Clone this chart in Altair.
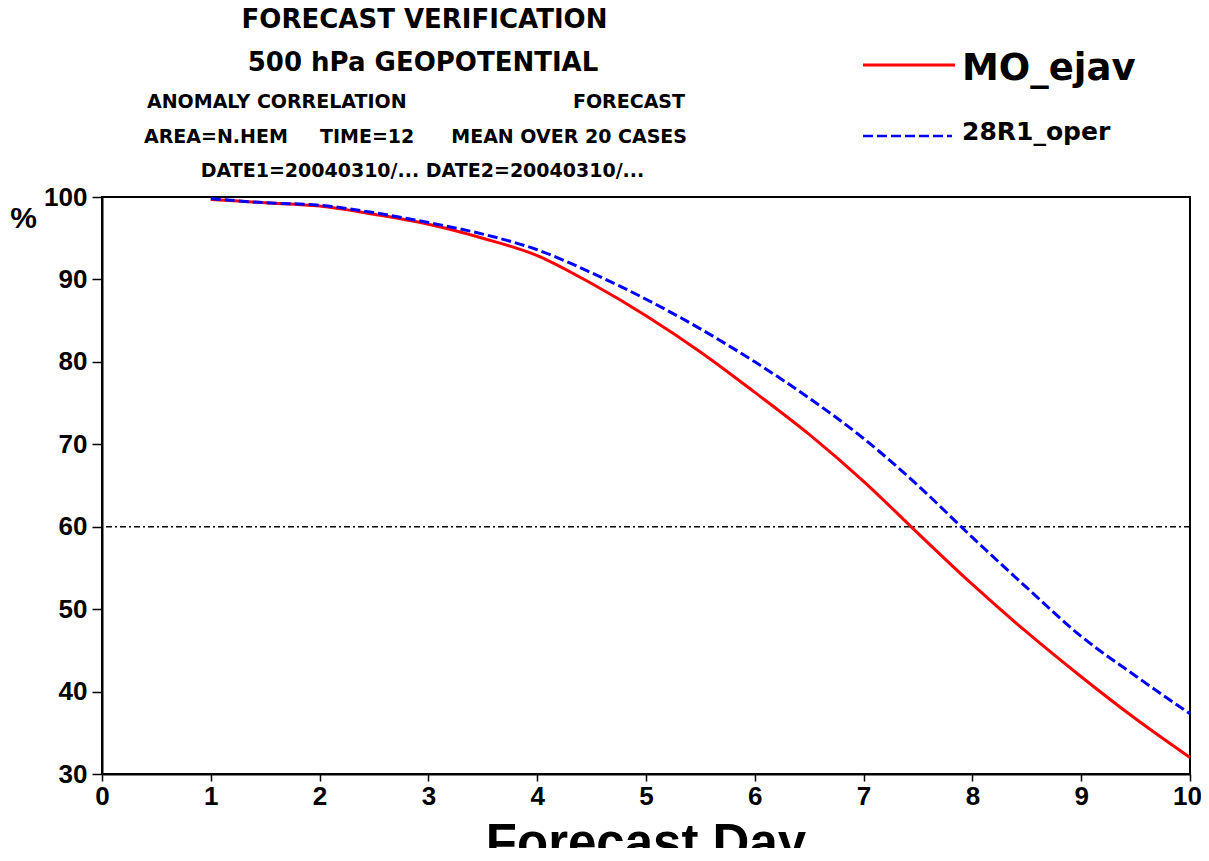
import altair as alt
import pandas as pd

# ---- data ----
days = [1, 1.5, 2, 2.5, 3, 3.5, 4, 4.5, 5, 5.5, 6, 6.5, 7, 7.5, 8, 8.5, 9, 9.5, 10]
mo_ejav = [99.7, 99.3, 98.9, 97.9, 96.7, 95.0, 92.9, 89.5, 85.6, 81.2, 76.3,
           71.2, 65.5, 59.2, 53.0, 47.2, 41.8, 36.7, 32.0]
r28_oper = [99.8, 99.3, 99.0, 98.1, 96.9, 95.5, 93.6, 90.8, 87.6, 84.0, 80.0,
            75.6, 70.7, 65.0, 58.7, 52.6, 46.7, 41.9, 37.3]
series_names = ["MO_ejav", "28R1_oper"]
series_colors = ["#ff0000", "#0000ff"]
x_ticks = list(range(0, 11))
y_ticks = list(range(30, 101, 10))
ref_value = [60]

title_lines = ["FORECAST VERIFICATION", "500 hPa GEOPOTENTIAL"]
info_left = "ANOMALY CORRELATION"
info_right = "FORECAST"
area_txt = "AREA=N.HEM"
time_txt = "TIME=12"
mean_txt = "MEAN OVER  20 CASES"
date_txt = "DATE1=20040310/... DATE2=20040310/..."
x_title = "Forecast Day"

rows = []
for d, a, b in zip(days, mo_ejav, r28_oper):
    rows.append({"day": d, "acc": a, "exp": series_names[0]})
    rows.append({"day": d, "acc": b, "exp": series_names[1]})
df = pd.DataFrame(rows)

W, H = 1088, 577
AX_FONT = "Liberation Sans"
TT_FONT = "DejaVu Sans"

xscale = alt.Scale(domain=[0, 10], nice=False, zero=False)
yscale = alt.Scale(domain=[30, 100], nice=False, zero=False)

xaxis = alt.Axis(values=x_ticks, format="d", title=None, grid=False, labelFont=AX_FONT,
                 labelFontSize=26, labelFontWeight="bold", labelColor="black",
                 tickSize=7, tickColor="black", tickWidth=1.5, domainColor="black",
                 domainWidth=2, labelPadding=2, labelFlush=False,
                 labelOffset={"condition": {"test": "datum.value == 10", "value": -3},
                              "value": 0})
yaxis = alt.Axis(values=y_ticks, format="d", title="%", titleAngle=0, titleX=-79, titleY=21,
                 titleAlign="center", titleBaseline="middle", titleFont=AX_FONT,
                 titleFontSize=30, titleFontWeight="bold", titleColor="black",
                 grid=False, labelFont=AX_FONT, labelFontSize=26,
                 labelFontWeight="bold", labelColor="black", tickSize=10,
                 tickColor="black", tickWidth=1.5, domainColor="black",
                 domainWidth=2, labelPadding=5, labelFlush=False)

base = alt.Chart(df)

red = base.transform_filter(alt.datum.exp == series_names[0]).mark_line(
    color=series_colors[0], strokeWidth=3, interpolate="monotone"
).encode(x=alt.X("day:Q", scale=xscale, axis=xaxis),
         y=alt.Y("acc:Q", scale=yscale, axis=yaxis))

blue = base.transform_filter(alt.datum.exp == series_names[1]).mark_line(
    color=series_colors[1], strokeWidth=3, strokeDash=[10, 4], interpolate="monotone"
).encode(x=alt.X("day:Q", scale=xscale), y=alt.Y("acc:Q", scale=yscale))

ref = alt.Chart(pd.DataFrame({"v": ref_value})).mark_rule(
    color="black", strokeWidth=1.5, strokeDash=[6, 3, 2, 3]
).encode(y=alt.Y("v:Q", scale=yscale))

one = alt.Data(values=[{}])


def txt(s, x, y, size, align="left", font=TT_FONT):
    return alt.Chart(one).mark_text(
        text=s, font=font, fontSize=size, fontWeight="bold", color="black",
        align=align, baseline="alphabetic"
    ).encode(x=alt.value(x), y=alt.value(y))


texts = [
    txt(title_lines[0], 322.5, -169, 26, "center"),
    txt(title_lines[1], 321, -126, 26, "center"),
    txt(info_left, 45, -89, 19, "left"),
    txt(info_right, 583, -89, 19, "right"),
    txt(area_txt, 42, -54, 19, "left"),
    txt(time_txt, 218, -54, 19, "left"),
    txt(mean_txt, 585, -54, 19, "right"),
    txt(date_txt, 320.5, -20, 19, "center"),
    txt(series_names[0], 860, -117, 37, "left"),
    txt(series_names[1], 860, -57, 25, "left"),
    txt(x_title, 544, 663, 51, "center", AX_FONT),
]

leg_red = alt.Chart(one).mark_rule(color=series_colors[0], strokeWidth=3).encode(
    x=alt.value(761), x2=alt.value(853), y=alt.value(-132))
leg_blue = alt.Chart(one).mark_rule(color=series_colors[1], strokeWidth=2.5,
                                    strokeDash=[10, 4]).encode(
    x=alt.value(761), x2=alt.value(850), y=alt.value(-61))

chart = alt.layer(ref, red, blue, leg_red, leg_blue, *texts).properties(
    width=W, height=H,
    padding={"left": 94, "top": 189, "right": 11, "bottom": 74},
    autosize=alt.AutoSizeParams(type="none"),
    background="white",
).configure_view(stroke="black", strokeWidth=2)

chart.save("out.html", embed_options={"renderer": "svg", "actions": False})
